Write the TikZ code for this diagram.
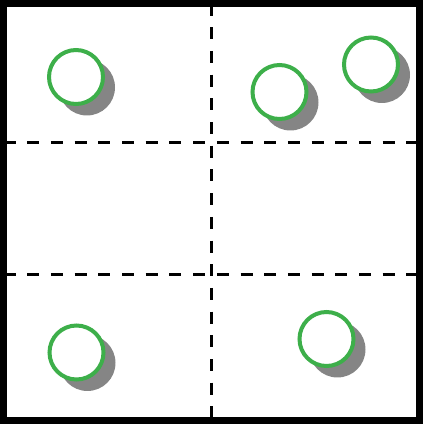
\documentclass[tikz,border=0pt]{standalone}
\usetikzlibrary{shadows}
\definecolor{ringgreen}{HTML}{3DAF4A}
\definecolor{shadowgray}{HTML}{858585}
\begin{document}
\begin{tikzpicture}[x=1pt,y=-1pt,
  ring/.style={circle,draw=ringgreen,line width=4pt,fill=white,inner sep=0pt,minimum size=54pt,
    drop shadow={shadow xshift=10.5pt,shadow yshift=-10pt,shadow scale=1.04,fill=shadowgray,opacity=1}},
  grid/.style={line width=3pt,dash pattern=on 12pt off 11.7pt}]
\useasboundingbox (0,0) rectangle (423,424);
\coordinate (vt) at (211.5,3.5);
\coordinate (vb) at (211.5,420.5);
\coordinate (h1l) at (3.5,142.5);
\coordinate (h1r) at (419.5,142.5);
\coordinate (h2l) at (3.5,274.5);
\coordinate (h2r) at (419.5,274.5);
\draw[grid] (vt) -- (vb);
\draw[grid] (h1l) -- (h1r);
\draw[grid] (h2l) -- (h2r);
\draw[line width=7pt] (3.5,3.5) rectangle (419.5,420.5);
\node[ring] (c1) at (76,77) {};
\node[ring] (c2) at (279.5,92) {};
\node[ring] (c3) at (371,64.5) {};
\node[ring] (c4) at (76.5,352.5) {};
\node[ring] (c5) at (326.5,339) {};
\end{tikzpicture}
\end{document}
